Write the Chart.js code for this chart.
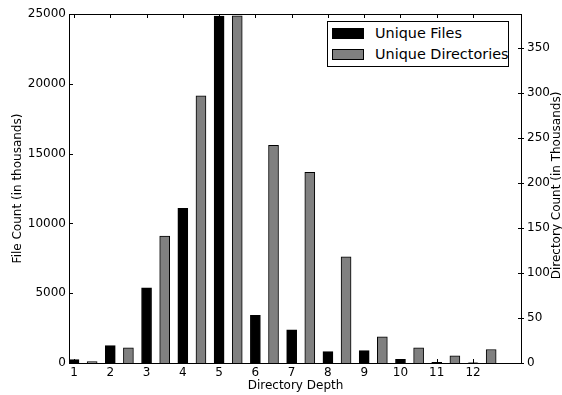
<!DOCTYPE html>
<html>
<head>
<meta charset="utf-8">
<script src="https://cdn.jsdelivr.net/npm/chart.js@4/dist/chart.umd.min.js"></script>
<style>
  html, body { margin: 0; padding: 0; background: #fff; }
  #wrap { position: relative; width: 562px; height: 395px; }
  #legend {
    position: absolute; left: 327px; top: 21px; width: 180px; height: 44px;
    border: 1px solid #000; background: #fff;
    font-family: "DejaVu Sans", sans-serif; font-size: 14.4px; color: #000;
  }
  .row { position: absolute; left: 4px; height: 18px; line-height: 18px; white-space: nowrap; }
  .sw { display: inline-block; width: 30px; height: 9px; border: 1px solid #000; vertical-align: middle; margin-right: 11px; position: relative; top: -1px; }
</style>
</head>
<body>
<div id="wrap">
  <canvas id="chart" width="562" height="395"></canvas>
  <div id="legend">
    <div class="row" style="top:2px"><span class="sw" style="background:#000"></span>Unique Files</div>
    <div class="row" style="top:23px"><span class="sw" style="background:#808080"></span>Unique Directories</div>
  </div>
</div>
<script>
// Directory depth for each pair of bars
const depths = [1, 2, 3, 4, 5, 6, 7, 8, 9, 10, 11, 12];
// Unique files per depth (thousands), left axis
const fileCounts = [240, 1250, 5380, 11080, 24850, 3420, 2380, 820, 890, 260, 40, 15];
// Unique directories per depth (thousands), right axis
const dirCounts = [1.5, 17, 141, 297, 386, 242, 212, 118, 29, 17, 8, 15];
// Tick values
const xTicks = [1, 2, 3, 4, 5, 6, 7, 8, 9, 10, 11, 12];
const fileTicks = [0, 5000, 10000, 15000, 20000, 25000];
const dirTicks = [0, 50, 100, 150, 200, 250, 300, 350];

const FONT = { family: '"DejaVu Sans", sans-serif', size: 12 };
const plain = v => String(v);

// Frame, inward tick marks and the right-hand axis title
const framePlugin = {
    id: 'frame',
    afterDraw(chart) {
        const { ctx, chartArea: a, scales } = chart;
        ctx.save();
        ctx.strokeStyle = '#000';
        ctx.lineWidth = 1;
        ctx.strokeRect(a.left + 0.5, a.top + 0.5, a.right - a.left - 1, a.bottom - a.top);
        ctx.beginPath();
        xTicks.forEach(v => {
            const x = Math.round(scales.x.getPixelForValue(v)) + 0.5;
            ctx.moveTo(x, a.top); ctx.lineTo(x, a.top + 4);
            ctx.moveTo(x, a.bottom); ctx.lineTo(x, a.bottom - 4);
        });
        fileTicks.forEach(v => {
            const y = Math.round(scales.y.getPixelForValue(v)) + 0.5;
            ctx.moveTo(a.left, y); ctx.lineTo(a.left + 4, y);
        });
        dirTicks.forEach(v => {
            const y = Math.round(scales.y1.getPixelForValue(v)) + 0.5;
            ctx.moveTo(a.right - 4, y); ctx.lineTo(a.right + 2, y);
        });
        ctx.stroke();

        ctx.translate(557, (a.top + a.bottom) / 2 - 3);
        ctx.rotate(-Math.PI / 2);
        ctx.font = '12px "DejaVu Sans", sans-serif';
        ctx.fillStyle = '#000';
        ctx.textAlign = 'center';
        ctx.textBaseline = 'middle';
        ctx.fillText('Directory Count (in Thousands)', 0, 0);
        ctx.restore();
    }
};

const ctx = document.getElementById('chart').getContext('2d');
new Chart(ctx, {
    type: 'bar',
    data: {
        datasets: [
            {
                label: 'Unique Files',
                data: depths.map((d, i) => ({ x: d, y: fileCounts[i] })),
                backgroundColor: '#000000',
                borderColor: '#000000',
                borderWidth: 1,
                barThickness: 10,
                grouped: false,
                yAxisID: 'y'
            },
            {
                label: 'Unique Directories',
                data: depths.map((d, i) => ({ x: d + 0.5, y: dirCounts[i] })),
                backgroundColor: '#808080',
                borderColor: '#000000',
                borderWidth: 1,
                barThickness: 10,
                grouped: false,
                yAxisID: 'y1'
            }
        ]
    },
    options: {
        responsive: false,
        animation: false,
        layout: { padding: { top: 14, left: 0, right: 0, bottom: 0 } },
        plugins: {
            legend: { display: false },
            tooltip: { enabled: false }
        },
        scales: {
            x: {
                type: 'linear',
                offset: false,
                min: 0.862,
                max: 13.35,
                afterBuildTicks: s => { s.ticks = xTicks.map(v => ({ value: v })); },
                afterFit: s => { s.height = 32; },
                grid: { display: false, drawTicks: false, offset: false },
                border: { display: false },
                ticks: { font: FONT, color: '#000', padding: 3, maxRotation: 0, callback: plain },
                title: { display: true, text: 'Directory Depth', font: FONT, color: '#000', padding: { top: 0, bottom: 2 } }
            },
            y: {
                position: 'left',
                min: 0,
                max: 25000,
                afterBuildTicks: s => { s.ticks = fileTicks.map(v => ({ value: v })); },
                afterFit: s => { s.width = 69; },
                grid: { display: false, drawTicks: false },
                border: { display: false },
                ticks: { font: FONT, color: '#000', padding: 3, callback: plain },
                title: { display: true, text: 'File Count (in thousands)', font: FONT, color: '#000', padding: { top: 11, bottom: 0 } }
            },
            y1: {
                position: 'right',
                min: 0,
                max: 388,
                afterBuildTicks: s => { s.ticks = dirTicks.map(v => ({ value: v })); },
                afterFit: s => { s.width = 40; },
                grid: { display: false, drawTicks: false },
                border: { display: false },
                ticks: { font: FONT, color: '#000', padding: 5, callback: plain }
            }
        }
    },
    plugins: [framePlugin]
});
</script>
</body>
</html>
